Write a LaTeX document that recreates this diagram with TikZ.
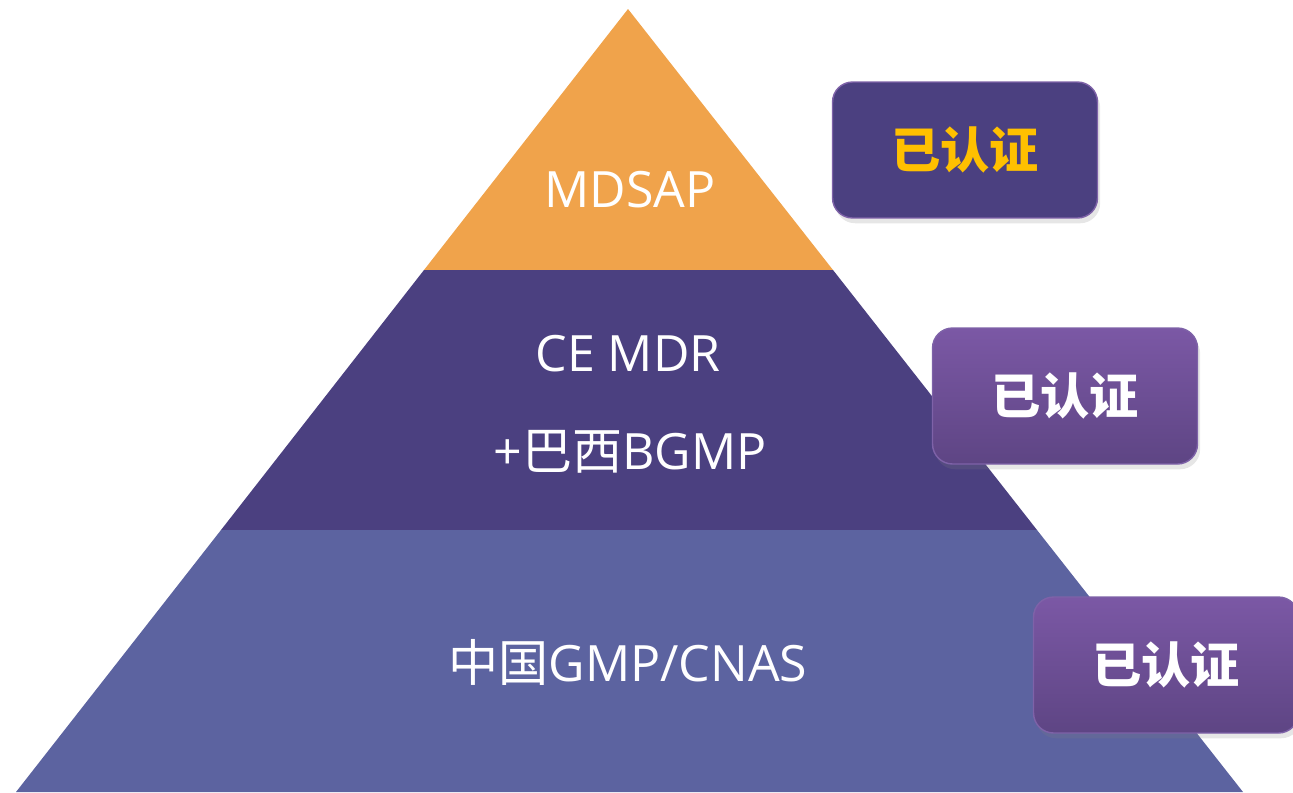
\documentclass[tikz,border=0pt]{standalone}
\usepackage{fontspec}
\setmainfont{Open Sans}
\newfontfamily\cjk{Noto Sans CJK SC}
\usetikzlibrary{shadows}

\definecolor{tierTop}{HTML}{F0A34B}
\definecolor{tierMid}{HTML}{4B4080}
\definecolor{tierLow}{HTML}{5C63A0}
\definecolor{badgeEdge}{HTML}{7E62A8}
\definecolor{badgeHi}{HTML}{7B58A5}
\definecolor{badgeLo}{HTML}{5E4584}
\definecolor{badgeGold}{HTML}{FFC000}

\tikzset{
	tier text/.style={text=white, font=\fontsize{28.5}{32}\selectfont},
	badge/.style={rectangle, rounded corners=0.4cm, draw=badgeEdge, line width=0.8pt,
		minimum width=5.3cm, minimum height=2.72cm, inner sep=0pt,
		font=\fontsize{28}{32}\selectfont\cjk\bfseries,
		drop shadow={shadow xshift=1.5pt, shadow yshift=-3pt, opacity=0.2}},
	badge shade/.style={badge, top color=badgeHi, bottom color=badgeLo, text=white}
}

\begin{document}
\begin{tikzpicture}[x=0.02cm, y=-0.02cm]
	\useasboundingbox (0,0) rectangle (1293,792);

	\coordinate (apex) at (628,9);
	\coordinate (tl) at (424,270);
	\coordinate (tr) at (833,270);
	\coordinate (ml) at (221,530);
	\coordinate (mr) at (1037,530);
	\coordinate (bl) at (16,792);
	\coordinate (br) at (1243,792);

	% pyramid tiers
	\fill[tierTop] (apex) -- (tr) -- (tl) -- cycle;
	\fill[tierMid] (tl) -- (tr) -- (mr) -- (ml) -- cycle;
	\fill[tierLow] (ml) -- (mr) -- (br) -- (bl) -- cycle;

	\node[tier text] (mdsap) at (630,190) {MDSAP};
	\node[tier text] (cemdr) at (628,354) {CE MDR};
	\node[tier text] (bgmp) at (630,452) {+{\cjk 巴西}BGMP};
	\node[tier text] (gmp) at (628,662) {{\cjk 中国}GMP/CNAS};

	% badges
	\node[badge, fill=tierMid, text=badgeGold] (badgeA) at (965,150) {已认证};
	\node[badge shade] (badgeB) at (1065,396) {已认证};
	\node[badge shade] (badgeC) at (1166,665) {已认证};
\end{tikzpicture}
\end{document}
